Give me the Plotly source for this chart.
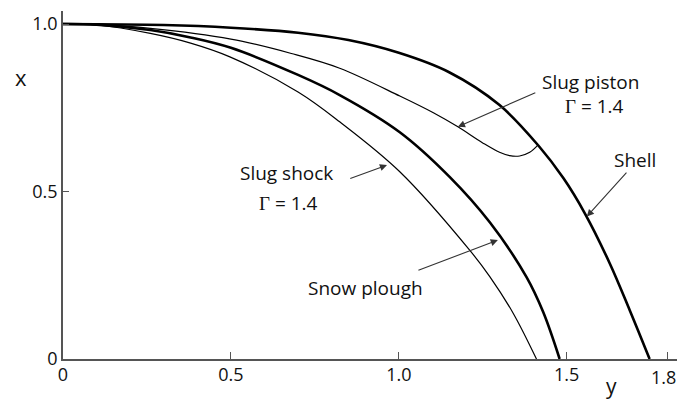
import plotly.graph_objects as go

# Radial trajectories: normalised position y (horizontal) vs x (vertical)
shell_y = [0, 0.3, 0.5, 0.7, 0.85, 1.0, 1.15, 1.3, 1.415, 1.49, 1.554, 1.628, 1.688, 1.747]
shell_x = [1.0, 0.997, 0.989, 0.974, 0.952, 0.914, 0.856, 0.758, 0.638, 0.540, 0.435, 0.286, 0.145, 0.0]

piston_y = [0, 0.1, 0.26, 0.5, 0.68, 0.824, 1.003, 1.103, 1.176, 1.25, 1.30, 1.33, 1.36, 1.39, 1.415]
piston_x = [1.0, 0.998, 0.987, 0.955, 0.912, 0.868, 0.785, 0.735, 0.693, 0.645, 0.617, 0.607, 0.606, 0.617, 0.639]

plough_y = [0, 0.1, 0.26, 0.38, 0.5, 0.7, 0.824, 1.003, 1.152, 1.271, 1.38, 1.43, 1.479]
plough_x = [1.0, 0.998, 0.982, 0.960, 0.929, 0.848, 0.788, 0.677, 0.543, 0.408, 0.245, 0.140, 0.0]

shock_y = [0, 0.1, 0.26, 0.38, 0.497, 0.7, 0.824, 1.003, 1.211, 1.271, 1.341, 1.41]
shock_x = [1.0, 0.997, 0.972, 0.943, 0.902, 0.797, 0.708, 0.559, 0.325, 0.246, 0.136, 0.0]

x_ticks = [0, 0.5, 1.0, 1.5, 1.8]
x_tick_text = ["0", "0.5", "1.0", "1.5", "1.8"]
y_ticks = [0, 0.5, 1.0]
y_tick_text = ["0", "0.5", "1.0"]

FONT = "Open Sans"
GAMMA = "<span style='font-family:Liberation Serif'>Γ</span> = 1.4"
TICK_FONT = dict(family=FONT, size=18, color="#111111")

fig = go.Figure()
curves = [
    (shell_y, shell_x, 2.6),
    (piston_y, piston_x, 1.2),
    (plough_y, plough_x, 2.6),
    (shock_y, shock_x, 1.2),
]
for xs, ys, w in curves:
    fig.add_trace(go.Scatter(
        x=xs, y=ys, mode="lines",
        line=dict(color="#000000", width=w, shape="spline", smoothing=1.0),
        hoverinfo="skip", showlegend=False,
    ))

# Pointer arrows (tip, then tail, in data units)
arrows = [
    (1.176, 0.693, 1.411, 0.797),
    (1.560, 0.425, 1.682, 0.561),
    (0.965, 0.579, 0.851, 0.537),
    (1.295, 0.355, 1.054, 0.263),
]
for tx, ty, sx, sy in arrows:
    fig.add_annotation(
        x=tx, y=ty, ax=sx, ay=sy, xref="x", yref="y", axref="x", ayref="y",
        text="", showarrow=True, arrowhead=2, arrowsize=1.3, arrowwidth=1.1,
        arrowcolor="#333333", standoff=0, startstandoff=0,
    )

labels = [
    (1.571, 0.827, "Slug piston"),
    (1.583, 0.755, GAMMA),
    (1.702, 0.594, "Shell"),
    (0.667, 0.555, "Slug shock"),
    (0.673, 0.466, GAMMA),
    (0.902, 0.212, "Snow plough"),
]
for lx, ly, t in labels:
    fig.add_annotation(
        x=lx, y=ly, xref="x", yref="y", text=t, showarrow=False,
        font=dict(family=FONT, size=19, color="#111111"),
        xanchor="center", yanchor="middle",
    )

# Axis letters
fig.add_annotation(x=-0.0684, y=0.81, xref="paper", yref="paper", text="x",
                   showarrow=False, font=dict(family=FONT, size=22, color="#111111"),
                   xanchor="center", yanchor="middle")
fig.add_annotation(x=0.894, y=-0.079, xref="paper", yref="paper", text="y",
                   showarrow=False, font=dict(family=FONT, size=21, color="#111111"),
                   xanchor="center", yanchor="middle", borderpad=0)

# The last x tick label sits at the right edge; keep it inside the page
x_tick_shown = x_tick_text[:-1] + [""]
fig.add_annotation(x=1.0, y=-0.053, xref="paper", yref="paper", text=x_tick_text[-1],
                   showarrow=False, font=TICK_FONT, xanchor="right", yanchor="middle",
                   borderpad=0)

axis_common = dict(
    showgrid=False, zeroline=False, showline=True, linecolor="#555555",
    linewidth=1.5, ticks="inside", tickcolor="#555555", tickwidth=1.2,
    tickfont=TICK_FONT, automargin=False,
)
fig.update_xaxes(range=[0, 1.8285], tickvals=x_ticks, ticktext=x_tick_shown,
                 ticklen=7, ticklabelstandoff=-1, **axis_common)
fig.update_yaxes(range=[0, 1.0388], tickvals=y_ticks, ticktext=y_tick_text,
                 ticklen=6, **axis_common)

fig.update_layout(
    width=677, height=402,
    margin=dict(l=63, r=0, t=11, b=43, autoexpand=False),
    paper_bgcolor="white", plot_bgcolor="white",
)

fig.write_html("out.html")
